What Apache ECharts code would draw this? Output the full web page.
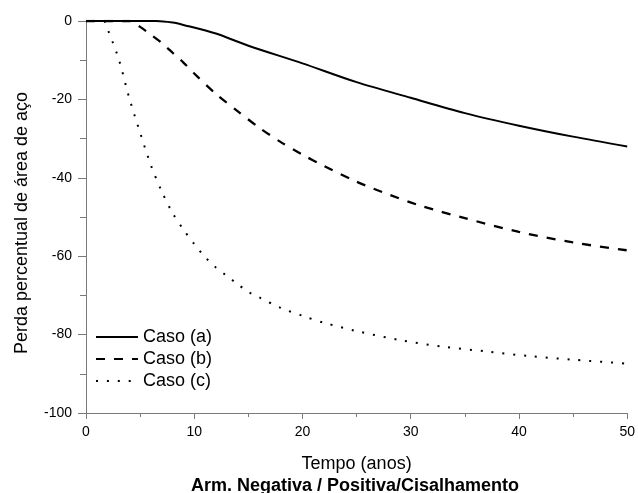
<!DOCTYPE html>
<html>
<head>
<meta charset="utf-8">
<script src="https://cdn.jsdelivr.net/npm/echarts@6/dist/echarts.min.js"></script>
<style>
html,body{margin:0;padding:0;background:#fff;}
#chart{width:638px;height:493px;}
</style>
</head>
<body>
<div id="chart"></div>
<script>
// Data
const xTicks = [0, 10, 20, 30, 40, 50];
const yTicks = [0, -20, -40, -60, -80, -100];
const seriesNames = ['Caso (a)', 'Caso (b)', 'Caso (c)'];

const caseA_x = [0, 6.5, 8, 9, 12, 15, 20, 25, 30, 35, 40, 45, 50];
const caseA_y = [0, 0, -0.4, -1, -3.2, -6.3, -10.8, -15.6, -19.6, -23.5, -26.7, -29.5, -32];

const caseB_x = [0, 4, 5, 6, 7, 8, 9, 10, 12, 14, 16, 18, 20, 22, 25, 28, 31, 35, 40, 45, 50];
const caseB_y = [0, 0, -1.5, -3.5, -5.6, -8.1, -10.6, -13.4, -18.6, -23, -27.2, -30.9, -34.1, -37, -41, -44.3, -47.2, -50.3, -53.8, -56.5, -58.5];

const caseC_x = [1.7, 3, 4, 5, 6, 7, 8, 9, 10, 11, 12, 13, 14, 15, 16, 18, 20, 22, 25, 29, 33, 37, 41, 45, 50];
const caseC_y = [0, -9.5, -19.7, -28.5, -36.8, -43.5, -49, -53.2, -56.9, -60.2, -62.9, -65, -67.1, -69.1, -70.5, -73.2, -75.2, -77, -79.1, -81.4, -83.1, -84.3, -85.5, -86.4, -87.4];

function pairs(xs, ys) { return xs.map((x, i) => [x, ys[i]]); }

const FONT = '"Liberation Sans", Arial, sans-serif';
const chart = echarts.init(document.getElementById('chart'), null, {renderer: 'canvas'});

const axisColor = '#7a7a7a';

chart.setOption({
  backgroundColor: '#ffffff',
  animation: false,
  grid: {left: 86, right: 9, top: 21, bottom: 80, containLabel: false},
  legend: {
    orient: 'vertical',
    left: 95,
    top: 328,
    itemWidth: 42,
    itemHeight: 18,
    itemGap: 4,
    padding: 0,
    itemStyle: {opacity: 0},
    textStyle: {fontFamily: FONT, fontSize: 18, color: '#000'},
    data: seriesNames
  },
  xAxis: {
    type: 'value',
    min: xTicks[0],
    max: xTicks[xTicks.length - 1],
    interval: 10,
    name: 'Tempo (anos)',
    nameLocation: 'middle',
    nameGap: 42,
    nameTextStyle: {fontFamily: FONT, fontSize: 18, color: '#000'},
    axisLine: {show: true, onZero: false, lineStyle: {color: axisColor, width: 1}},
    axisTick: {show: true, inside: false, length: 6, lineStyle: {color: axisColor}},
    minorTick: {show: true, splitNumber: 2, length: 4, lineStyle: {color: axisColor}},
    axisLabel: {fontFamily: FONT, fontSize: 14, color: '#000', margin: 12},
    splitLine: {show: false}
  },
  yAxis: {
    type: 'value',
    min: yTicks[yTicks.length - 1],
    max: yTicks[0],
    interval: 20,
    name: 'Perda percentual de área de aço',
    nameLocation: 'middle',
    nameRotate: 90,
    nameGap: 55,
    nameTextStyle: {fontFamily: FONT, fontSize: 18, color: '#000', padding: [0, 12, 0, 0]},
    axisLine: {show: true, onZero: false, lineStyle: {color: axisColor, width: 1}},
    axisTick: {show: true, inside: false, length: 8, lineStyle: {color: axisColor}},
    minorTick: {show: true, splitNumber: 2, length: 6, lineStyle: {color: axisColor}},
    axisLabel: {fontFamily: FONT, fontSize: 14, color: '#000', margin: 14},
    splitLine: {show: false}
  },
  graphic: [{
    type: 'text',
    left: 357 - 166,
    top: 477,
    style: {
      text: 'Arm. Negativa / Positiva/Cisalhamento',
      font: 'bold 18px ' + FONT,
      fill: '#000'
    }
  }],
  series: [
    {
      name: seriesNames[0], type: 'line', data: pairs(caseA_x, caseA_y),
      symbol: 'none', smooth: 0.3,
      lineStyle: {color: '#000', width: 2, type: 'solid'},
      itemStyle: {color: '#000'}
    },
    {
      name: seriesNames[1], type: 'line', data: pairs(caseB_x, caseB_y),
      symbol: 'none', smooth: 0.3,
      lineStyle: {color: '#000', width: 2.3, type: [9, 9]},
      itemStyle: {color: '#000'}
    },
    {
      name: seriesNames[2], type: 'line', data: pairs(caseC_x, caseC_y),
      symbol: 'none', smooth: 0.3,
      lineStyle: {color: '#000', width: 2, type: [2, 8.9]},
      itemStyle: {color: '#000'}
    }
  ]
});
</script>
</body>
</html>
